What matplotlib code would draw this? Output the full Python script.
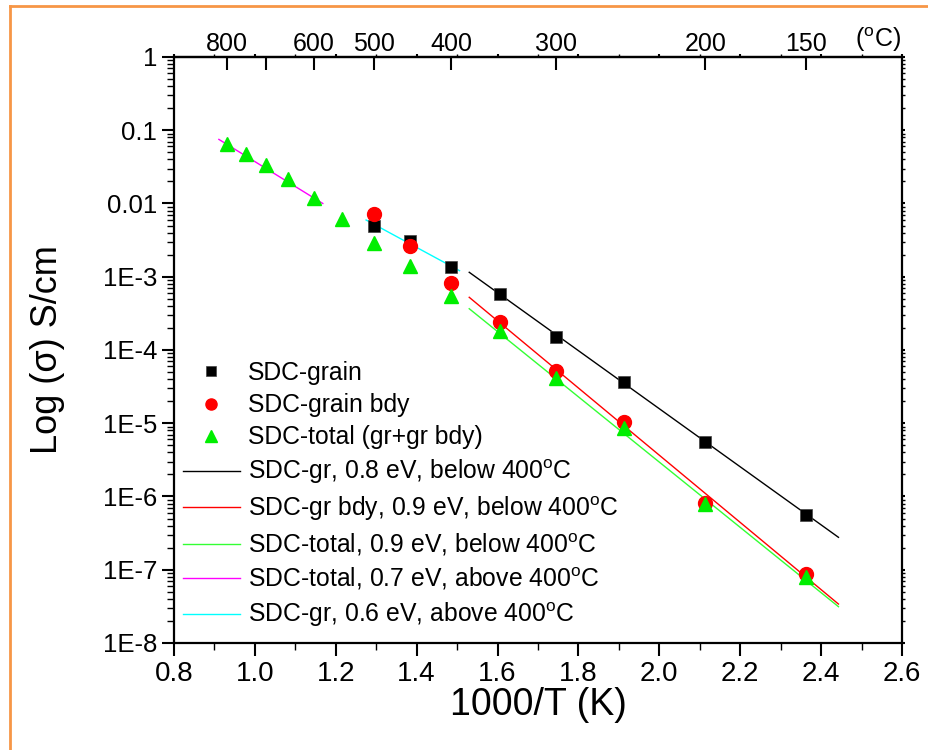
import matplotlib
matplotlib.use('Agg')
import matplotlib.pyplot as plt
from matplotlib.lines import Line2D
from matplotlib.ticker import FixedLocator, LogLocator, NullFormatter, MultipleLocator

# 1000/T (K) for each measurement temperature (800..150 C, steps of 50)
x_grain = [1.294, 1.383, 1.486, 1.605, 1.745, 1.912, 2.114, 2.363]
y_grain = [5.0e-3, 3.1e-3, 1.37e-3, 5.8e-4, 1.52e-4, 3.66e-5, 5.5e-6, 5.5e-7]

x_bdy = [1.294, 1.383, 1.486, 1.605, 1.745, 1.912, 2.114, 2.363]
y_bdy = [7.1e-3, 2.63e-3, 8.3e-4, 2.44e-4, 5.2e-5, 1.04e-5, 8.1e-7, 8.7e-8]

x_total = [0.932, 0.978, 1.028, 1.083, 1.146, 1.215, 1.294, 1.383, 1.486,
           1.605, 1.745, 1.912, 2.114, 2.363]
y_total = [6.4e-2, 4.7e-2, 3.4e-2, 2.15e-2, 1.19e-2, 6.2e-3, 2.9e-3, 1.39e-3,
           5.5e-4, 1.82e-4, 4.2e-5, 8.6e-6, 7.9e-7, 7.9e-8]

# Arrhenius fit lines (end points)
fit_gr_low_x, fit_gr_low_y = [1.530, 2.443], [1.15e-3, 2.77e-7]
fit_bdy_low_x, fit_bdy_low_y = [1.530, 2.443], [5.24e-4, 3.4e-8]
fit_tot_low_x, fit_tot_low_y = [1.530, 2.443], [3.66e-4, 3.13e-8]
fit_tot_high_x, fit_tot_high_y = [0.911, 1.168], [7.5e-2, 1.0e-2]
fit_gr_high_x, fit_gr_high_y = [1.275, 1.506], [5.95e-3, 1.21e-3]

y_ticks = [1, 0.1, 0.01, 1e-3, 1e-4, 1e-5, 1e-6, 1e-7, 1e-8]
y_tick_labels = ['1', '0.1', '0.01', '1E-3', '1E-4', '1E-5', '1E-6', '1E-7', '1E-8']
x_ticks = [0.8, 1.0, 1.2, 1.4, 1.6, 1.8, 2.0, 2.2, 2.4, 2.6]
x_tick_labels = ['0.8', '1.0', '1.2', '1.4', '1.6', '1.8', '2.0', '2.2', '2.4', '2.6']
top_ticks_c = [800, 700, 600, 500, 400, 300, 200, 150]
top_tick_labels = ['800', '', '600', '500', '400', '300', '200', '150']

plt.rcParams['font.family'] = ['Liberation Sans', 'DejaVu Sans']
plt.rcParams['mathtext.fontset'] = 'custom'
plt.rcParams['mathtext.rm'] = 'Liberation Sans'
plt.rcParams['mathtext.it'] = 'Liberation Sans'

fig = plt.figure(figsize=(9.29, 7.5), dpi=100)
ax = fig.add_axes([0.1873, 0.1427, 0.7836, 0.7813])

ax.plot(fit_gr_low_x, fit_gr_low_y, color='black', lw=1.0,
        label=r'SDC-gr, 0.8 eV, below 400$^{\rm o}$C')
ax.plot(fit_bdy_low_x, fit_bdy_low_y, color='red', lw=1.0,
        label=r'SDC-gr bdy, 0.9 eV, below 400$^{\rm o}$C')
ax.plot(fit_tot_low_x, fit_tot_low_y, color='#33ff33', lw=1.0,
        label=r'SDC-total, 0.9 eV, below 400$^{\rm o}$C')
ax.plot(fit_tot_high_x, fit_tot_high_y, color='#ff00ff', lw=1.0,
        label=r'SDC-total, 0.7 eV, above 400$^{\rm o}$C')
ax.plot(fit_gr_high_x, fit_gr_high_y, color='#00ffff', lw=1.0,
        label=r'SDC-gr, 0.6 eV, above 400$^{\rm o}$C')

ax.plot(x_grain, y_grain, 's', color='black', ms=8.5, mec='#444444', mew=0.5,
        label='SDC-grain', zorder=3)
ax.plot(x_bdy, y_bdy, 'o', color='red', ms=10, mec='red', label='SDC-grain bdy', zorder=3)
ax.plot(x_total, y_total, '^', color='#00ee00', ms=10.5, mec='#00ee00',
        label='SDC-total (gr+gr bdy)', zorder=4)

ax.set_yscale('log')
ax.set_xlim(0.8, 2.6)
ax.set_ylim(1e-8, 1)

ax.yaxis.set_major_locator(FixedLocator(y_ticks))
ax.set_yticklabels(y_tick_labels)
ax.yaxis.set_minor_locator(LogLocator(base=10, subs=range(2, 10), numticks=20))
ax.yaxis.set_minor_formatter(NullFormatter())
ax.set_xticks(x_ticks)
ax.set_xticklabels(x_tick_labels, fontsize=20)
ax.xaxis.set_minor_locator(MultipleLocator(0.1))

ax.tick_params(axis='y', which='major', direction='out', length=9, width=1.5,
               labelsize=18.5, right=True, pad=3)
ax.tick_params(axis='y', which='minor', direction='out', length=5, width=1.0, right=True)
ax.tick_params(axis='x', which='major', direction='out', length=9, width=1.5, top=True, pad=4)
ax.tick_params(axis='x', which='minor', direction='out', length=5, width=1.0, top=True)
for t in ax.xaxis.get_major_ticks() + ax.xaxis.get_minor_ticks():
    t.tick2line.set_markersize(2)
for t in ax.yaxis.get_major_ticks() + ax.yaxis.get_minor_ticks():
    t.tick2line.set_markersize(2)

for s in ax.spines.values():
    s.set_linewidth(1.6)

ax.set_xlabel('1000/T (K)', fontsize=27, labelpad=0)
ax.set_ylabel('Log (σ) S/cm', fontsize=26, labelpad=27)

# top axis in Celsius
secax = ax.secondary_xaxis('top', functions=(lambda x: 1000.0 / x - 273.15,
                                              lambda t: 1000.0 / (t + 273.15)))
secax.set_xticks(top_ticks_c)
secax.set_xticklabels(top_tick_labels, fontsize=18)
secax.tick_params(direction='in', length=9, width=1.5, pad=1)
secax.xaxis.set_minor_locator(FixedLocator([]))
secax.spines['top'].set_linewidth(1.6)
fig.text(0.945, 0.937, r'($^{\rm o}$C)', fontsize=18, ha='center', va='baseline')

handles, labels = ax.get_legend_handles_labels()
order = [5, 6, 7, 0, 1, 2, 3, 4]
ax.legend([handles[i] for i in order], [labels[i] for i in order],
          loc='upper left', bbox_to_anchor=(0.012, 0.481), frameon=False,
          fontsize=17.8, handlelength=2.3, handletextpad=0.35, labelspacing=0.33,
          borderaxespad=0, borderpad=0, markerscale=0.8)

# orange frame around the figure
fig.add_artist(Line2D([0.0108, 0.0108], [0, 0.992], transform=fig.transFigure,
                      color='#f79646', lw=2))
fig.add_artist(Line2D([0.0108, 1.0], [0.992, 0.992], transform=fig.transFigure,
                      color='#f79646', lw=2))

fig.savefig('out.png', dpi=100)
